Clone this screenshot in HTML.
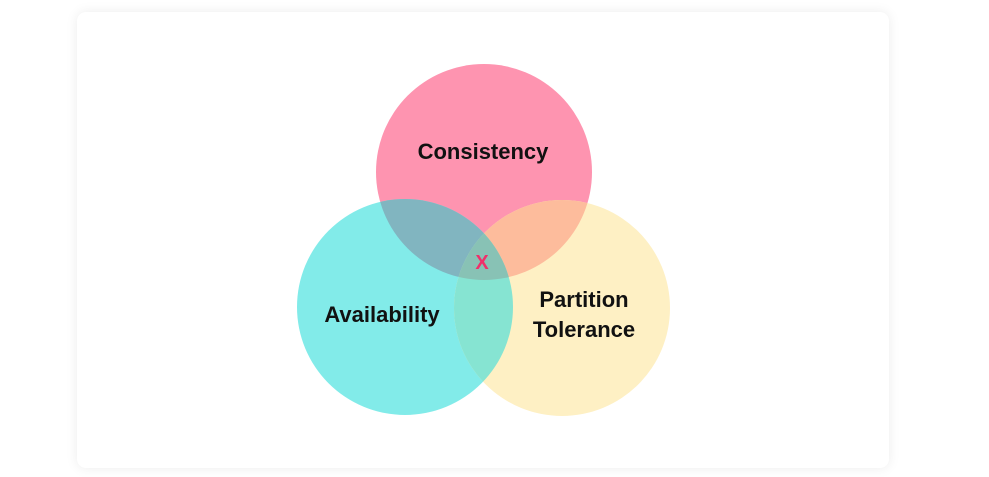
<!DOCTYPE html>
<html><head><style>
html,body{margin:0;padding:0;background:#fff;width:989px;height:477px;overflow:hidden}
.card{position:absolute;left:77px;top:12px;width:812px;height:456px;background:#fff;border-radius:9px;box-shadow:0 0 12px rgba(0,0,0,0.08)}
svg{position:absolute;left:0;top:0}
</style></head><body>
<div class="card"></div>
<svg width="989" height="477" viewBox="0 0 989 477">
<defs>
<clipPath id="cC"><circle cx="484" cy="172" r="108"/></clipPath>
<clipPath id="cA"><circle cx="405" cy="307" r="108"/></clipPath>
<clipPath id="cP"><circle cx="562" cy="308" r="108"/></clipPath>
</defs>
<circle cx="484" cy="172" r="108" fill="#fe94b0"/>
<circle cx="405" cy="307" r="108" fill="#82ebe9"/>
<circle cx="562" cy="308" r="108" fill="#fef0c4"/>
<circle cx="405" cy="307" r="108" fill="#81b5c0" clip-path="url(#cC)"/>
<circle cx="562" cy="308" r="108" fill="#fdbc9c" clip-path="url(#cC)"/>
<circle cx="562" cy="308" r="108" fill="#86e4d2" clip-path="url(#cA)"/>
<g clip-path="url(#cC)"><circle cx="562" cy="308" r="108" fill="#88c2b5" clip-path="url(#cA)"/></g>
<g font-family="'Liberation Sans',sans-serif" font-weight="bold" fill="#111" text-anchor="middle" font-size="22">
<text x="483" y="159">Consistency</text>
<text x="382" y="322">Availability</text>
<text x="584" y="307">Partition</text>
<text x="584" y="337">Tolerance</text>
<text x="482" y="269" fill="#f0306a" font-size="20">X</text>
</g>
</svg>
</body></html>
